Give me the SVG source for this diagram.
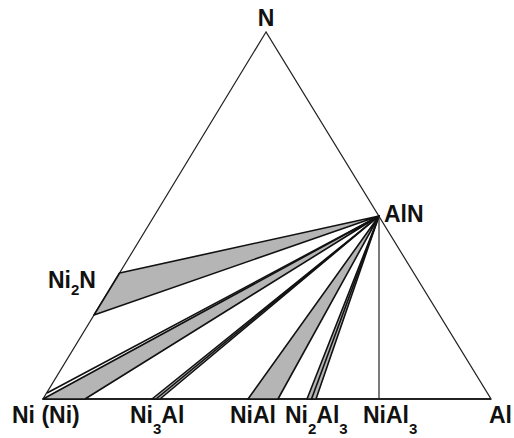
<svg xmlns="http://www.w3.org/2000/svg" width="514" height="438" viewBox="0 0 514 438">
<style>
.edge{fill:none;stroke:#222;stroke-width:1.2}
.tie{fill:none;stroke:#111;stroke-width:1.6;stroke-linejoin:round}
.band{fill:#b5b5b5;stroke:#111;stroke-width:1.6;stroke-linejoin:round}
.lbl{font-family:"Liberation Sans",Arial,sans-serif;font-weight:bold;font-size:23px;fill:#111}
.sub{font-size:15px}
</style>
<rect width="514" height="438" fill="#fff"/>
<g id="frame">
<polygon class="edge" points="266,32 43,399 491,399"/>
<line x1="43" y1="399" x2="491" y2="399" stroke="#222" stroke-width="2"/>
</g>
<g id="connectors">
<polygon id="band-Ni2N" class="band" points="119.6,273 94,315 379,216"/>
<polygon id="band-Ni" class="band" points="43,399 85,399 379,216"/>
<line class="tie" x1="47" y1="393" x2="379" y2="216" stroke-width="1"/>
<polygon id="band-Ni3Al" class="band" points="152,399 160,399 379,216" fill="#fff"/>
<line class="tie" x1="156" y1="399" x2="379" y2="216" stroke-width="1"/>
<polygon id="band-NiAl" class="band" points="248,399 278,399 379,216"/>
<polygon id="band-Ni2Al3" class="band" points="307,399 316,399 379,216" fill="#fff"/>
<line class="tie" x1="311.5" y1="399" x2="379" y2="216" stroke-width="1"/>
<line id="tie-NiAl3" class="edge" x1="379" y1="216" x2="379" y2="399"/>
</g>
<g id="node-N"><text class="lbl" x="266" y="26" text-anchor="middle">N</text></g>
<g id="node-AlN"><text class="lbl" x="384" y="222">AlN</text></g>
<g id="node-Ni2N"><text class="lbl" x="48" y="288">Ni<tspan class="sub" dy="7">2</tspan><tspan dy="-7">N</tspan></text></g>
<g id="node-Ni"><text class="lbl" x="12" y="423">Ni (Ni)</text></g>
<g id="node-Ni3Al"><text class="lbl" x="130" y="423">Ni<tspan class="sub" dy="11">3</tspan><tspan dy="-11">Al</tspan></text></g>
<g id="node-NiAl"><text class="lbl" x="230" y="423">NiAl</text></g>
<g id="node-Ni2Al3"><text class="lbl" x="285" y="423">Ni<tspan class="sub" dy="11">2</tspan><tspan dy="-11">Al</tspan><tspan class="sub" dy="11">3</tspan></text></g>
<g id="node-NiAl3"><text class="lbl" x="363" y="423">NiAl<tspan class="sub" dy="11">3</tspan></text></g>
<g id="node-Al"><text class="lbl" x="489" y="423">Al</text></g>
</svg>
